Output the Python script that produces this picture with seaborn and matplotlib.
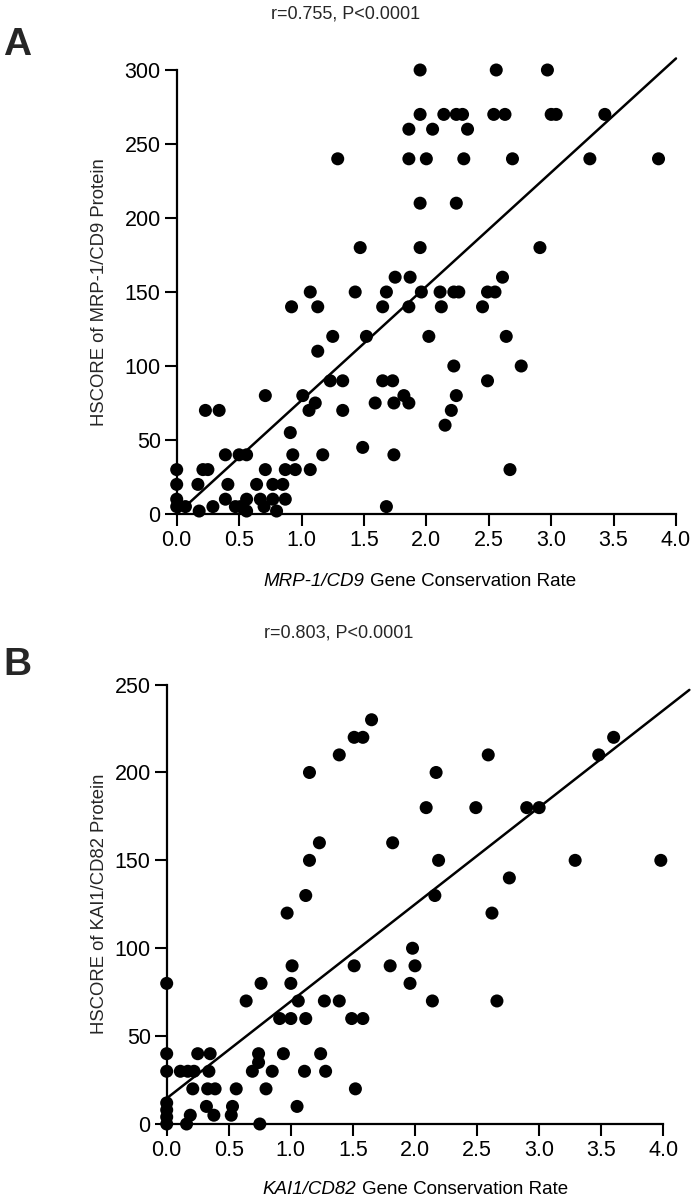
import numpy as np
import pandas as pd
import matplotlib
matplotlib.use("Agg")
import matplotlib.pyplot as plt
import seaborn as sns
from matplotlib.offsetbox import TextArea, HPacker, AnnotationBbox

# ---------------- Data ----------------
a_x = [0.00, 0.00, 0.00, 0.00, 0.07, 0.18, 0.17, 0.21, 0.25, 0.23, 0.34, 0.29,
       0.39, 0.41, 0.39, 0.47, 0.51, 0.50, 0.56, 0.56, 0.56, 0.64, 0.67, 0.70,
       0.71, 0.71, 0.77, 0.85, 0.77, 0.87, 0.80, 0.87, 0.95, 0.91, 0.93, 0.92,
       1.01, 1.06, 1.07, 1.11, 1.07, 1.13, 1.13, 1.17, 1.23, 1.33, 1.25, 1.33,
       1.29, 1.43, 1.47, 1.49, 1.52, 1.59, 1.65, 1.73, 1.65, 1.68, 1.68, 1.74,
       1.74, 1.75, 1.82, 1.86, 1.87, 1.86, 1.86, 1.86, 1.95, 1.95, 1.95, 1.95,
       1.96, 2.00, 2.02, 2.05, 2.11, 2.12, 2.14, 2.15, 2.20, 2.22, 2.22, 2.24,
       2.24, 2.24, 2.26, 2.29, 2.30, 2.33, 2.45, 2.49, 2.49, 2.55, 2.54, 2.56,
       2.61, 2.63, 2.64, 2.67, 2.69, 2.76, 2.91, 2.97, 3.00, 3.04, 3.31, 3.43,
       3.86]
a_y = [30, 20, 10, 5, 5, 2, 20, 30, 30, 70, 70, 5,
       40, 20, 10, 5, 5, 40, 40, 10, 2, 20, 10, 5,
       30, 80, 20, 20, 10, 10, 2, 30, 30, 55, 40, 140,
       80, 70, 30, 75, 150, 140, 110, 40, 90, 90, 120, 70,
       240, 150, 180, 45, 120, 75, 90, 90, 140, 150, 5, 75,
       40, 160, 80, 75, 160, 140, 240, 260, 300, 270, 210, 180,
       150, 240, 120, 260, 150, 140, 270, 60, 70, 100, 150, 80,
       210, 270, 150, 270, 240, 260, 140, 90, 150, 150, 270, 300,
       160, 270, 120, 30, 240, 100, 180, 300, 270, 270, 240, 270,
       240]

b_x = [0.00, 0.00, 0.00, 0.00, 0.00, 0.00, 0.00, 0.11, 0.17, 0.22, 0.16, 0.19,
       0.21, 0.25, 0.35, 0.34, 0.33, 0.39, 0.32, 0.38, 0.52, 0.53, 0.56, 0.64,
       0.69, 0.74, 0.74, 0.75, 0.76, 0.80, 0.85, 0.91, 0.94, 0.97, 1.00, 1.00,
       1.01, 1.05, 1.06, 1.11, 1.12, 1.12, 1.15, 1.15, 1.23, 1.24, 1.27, 1.28,
       1.39, 1.39, 1.49, 1.51, 1.51, 1.52, 1.58, 1.58, 1.65, 1.80, 1.82, 1.96,
       1.98, 2.00, 2.09, 2.14, 2.16, 2.17, 2.19, 2.49, 2.59, 2.62, 2.66, 2.76,
       2.90, 3.00, 3.29, 3.48, 3.60, 3.98]
b_y = [80, 40, 30, 12, 8, 4, 0, 30, 30, 30, 0, 5,
       20, 40, 40, 30, 20, 20, 10, 5, 5, 10, 20, 70,
       30, 40, 35, 0, 80, 20, 30, 60, 40, 120, 60, 80,
       90, 10, 70, 30, 60, 130, 150, 200, 160, 40, 70, 30,
       70, 210, 60, 90, 220, 20, 60, 220, 230, 90, 160, 80,
       100, 90, 180, 70, 130, 200, 150, 180, 210, 120, 70, 140,
       180, 180, 150, 210, 220, 150]

# regression lines as printed (intercept, slope, x-range)
a_fit = {"intercept": -0.2, "slope": 77.0, "x_range": [0.0, 4.0]}
b_fit = {"intercept": 14.6, "slope": 55.2, "x_range": [0.0, 4.21]}

a_stat = "r=0.755, P<0.0001"
b_stat = "r=0.803, P<0.0001"
a_ylabel = "HSCORE of MRP-1/CD9 Protein"
b_ylabel = "HSCORE of KAI1/CD82 Protein"
a_xlabel_gene = "MRP-1/CD9"
b_xlabel_gene = "KAI1/CD82"
xlabel_rest = "Gene Conservation Rate"
x_ticks = [0.0, 0.5, 1.0, 1.5, 2.0, 2.5, 3.0, 3.5, 4.0]
a_yticks = [0, 50, 100, 150, 200, 250, 300]
b_yticks = [0, 50, 100, 150, 200, 250]

# ---------------- Style ----------------
sns.set_theme(style="ticks")
plt.rcParams['font.family'] = ['Liberation Sans', 'DejaVu Sans']
plt.rcParams['axes.edgecolor'] = 'black'

W, H = 692, 1200
fig = plt.figure(figsize=(W / 100, H / 100), dpi=100)
fig.patch.set_facecolor('white')


def px_axes(left, right, top, bottom):
    return [left / W, 1 - bottom / H, (right - left) / W, (bottom - top) / H]


axA = fig.add_axes(px_axes(176.7, 676.0, 70.0, 514.0))
axB = fig.add_axes(px_axes(166.7, 663.3, 684.6, 1124.0))


def draw_panel(ax, xs, ys, fit, yticks):
    df = pd.DataFrame({"x": xs, "y": ys})
    sns.scatterplot(data=df, x="x", y="y", ax=ax, s=88, color="black",
                    edgecolor="none", linewidth=0, clip_on=False, zorder=3,
                    legend=False)
    lx = np.array(fit["x_range"])
    ly = fit["intercept"] + fit["slope"] * lx
    line_df = pd.DataFrame({"x": lx, "y": ly})
    sns.lineplot(data=line_df, x="x", y="y", ax=ax, color="black",
                 linewidth=1.8, clip_on=False, zorder=2)
    ax.set_xlim(0, 4.0)
    ax.set_ylim(0, yticks[-1])
    ax.set_xticks(x_ticks)
    ax.set_xticklabels([f"{t:.1f}" for t in x_ticks])
    ax.set_yticks(yticks)
    ax.set_yticklabels([str(t) for t in yticks])
    ax.set_xlabel("")
    ax.set_ylabel("")
    sns.despine(ax=ax)
    for sp in ("left", "bottom"):
        ax.spines[sp].set_linewidth(1.6)
        ax.spines[sp].set_color("black")
    ax.tick_params(direction="out", length=8.5, width=1.5, labelsize=15.5,
                   colors="black", pad=3)
    ax.set_facecolor("white")


draw_panel(axA, a_x, a_y, a_fit, a_yticks)
draw_panel(axB, b_x, b_y, b_fit, b_yticks)


def ftext(x, y, s, **kw):
    fig.text(x / W, 1 - y / H, s, **kw)


# panel letters
ftext(17, 45, "A", fontsize=28, fontweight="bold", ha="center", va="center")
ftext(17, 665, "B", fontsize=28, fontweight="bold", ha="center", va="center")

# stats
ftext(346, 14, a_stat, fontsize=13, ha="center", va="center")
ftext(339, 633, b_stat, fontsize=13, ha="center", va="center")

# y labels
ftext(100, 292, a_ylabel, fontsize=13.3, rotation=90, ha="center", va="center")
ftext(100, 904, b_ylabel, fontsize=13.3, rotation=90, ha="center", va="center")


def mixed_xlabel(xc, yc, gene):
    t1 = TextArea(gene, textprops=dict(fontsize=13.5, fontstyle="italic",
                                       color="black"))
    t2 = TextArea(xlabel_rest, textprops=dict(fontsize=13.5, color="black"))
    box = HPacker(children=[t1, t2], align="baseline", pad=0, sep=4)
    ab = AnnotationBbox(box, (xc / W, 1 - yc / H), xycoords="figure fraction",
                        frameon=False, box_alignment=(0.5, 0.5))
    fig.add_artist(ab)


mixed_xlabel(420, 582, a_xlabel_gene)
mixed_xlabel(415, 1190, b_xlabel_gene)

fig.savefig("out.png", dpi=100, facecolor="white")
